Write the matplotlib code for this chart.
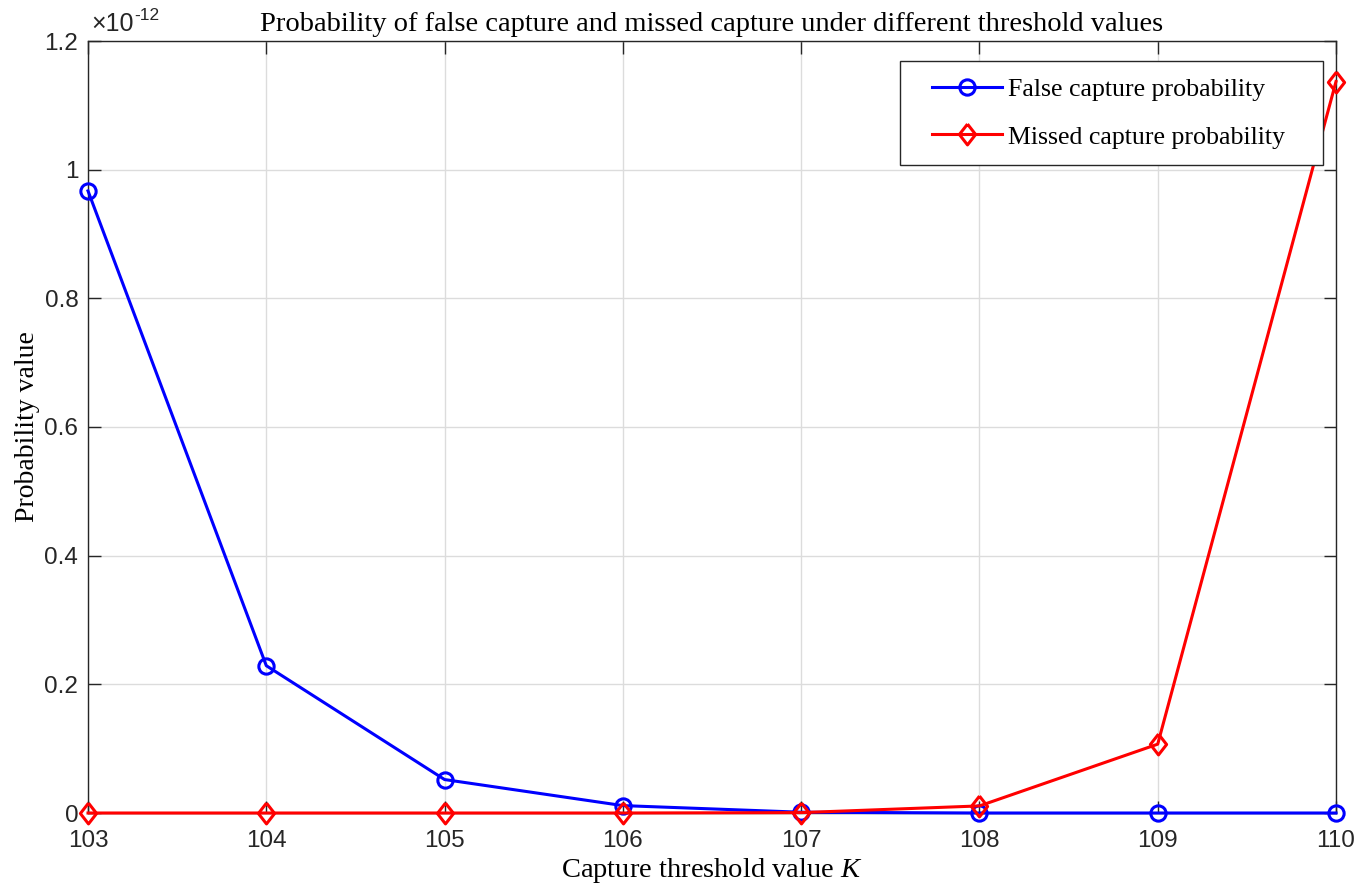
import matplotlib
matplotlib.use("Agg")
import matplotlib.pyplot as plt
import numpy as np
from matplotlib.lines import Line2D
from matplotlib.legend_handler import HandlerLine2D

plt.rcParams["mathtext.fontset"] = "custom"
plt.rcParams["mathtext.rm"] = "Liberation Serif"
plt.rcParams["mathtext.it"] = "Liberation Serif:italic"

K = [103, 104, 105, 106, 107, 108, 109, 110]
false_capture = [0.967, 0.229, 0.052, 0.0115, 0.0012, 0.0, 0.0, 0.0]   # x 1e-12
missed_capture = [0.0, 0.0, 0.0, 0.0, 0.0006, 0.011, 0.107, 1.137]     # x 1e-12
scale = 1e-12
yticks = [0, 0.2, 0.4, 0.6, 0.8, 1.0, 1.2]
ytick_labels = ["0", "0.2", "0.4", "0.6", "0.8", "1", "1.2"]

serif = ["Liberation Serif", "DejaVu Serif"]
sans = ["Liberation Sans", "DejaVu Sans"]

diamond = [(0, 1), (0.78, 0), (0, -1), (-0.78, 0), (0, 1)]

fig = plt.figure(figsize=(13.69, 8.85), dpi=100)
ax = fig.add_axes([88/1369, 1-813/885, (1336-88)/1369, (813-41)/885])

fc = np.array(false_capture) * scale
mc = np.array(missed_capture) * scale

ax.plot(K, fc, color="#0000ff", lw=2.2, marker="o", ms=11, mfc="none", mew=2.2,
        label="False capture probability", clip_on=False, zorder=3)
ax.plot(K, mc, color="#ff0000", lw=2.2, marker=diamond, ms=15, mfc="none", mew=2.2,
        label="Missed capture probability", clip_on=False, zorder=3)

ax.set_xlim(103, 110)
ax.set_ylim(0, 1.2 * scale)
ax.set_xticks(K)
ax.set_yticks([v * scale for v in yticks])
ax.set_yticklabels(ytick_labels)
ax.set_xticklabels([str(k) for k in K])
for lbl in ax.get_xticklabels() + ax.get_yticklabels():
    lbl.set_family(sans)
    lbl.set_fontsize(17.5)
    lbl.set_color("#262626")

ax.tick_params(direction="in", top=True, right=True, length=9, width=1, color="#262626")
ax.tick_params(axis="x", pad=12)
ax.tick_params(axis="y", pad=7)
ax.grid(True, color="#dcdcdc", lw=1)
ax.set_axisbelow(True)
for s in ax.spines.values():
    s.set_color("#262626")
    s.set_linewidth(1)

ax.set_xlabel("Capture threshold value $\\mathit{K}$", family=serif, fontsize=20.5, labelpad=3)
ax.set_ylabel("Probability value", family=serif, fontsize=20, labelpad=3)
ax.set_title("Probability of false capture and missed capture under different threshold values",
             family=serif, fontsize=20.5, pad=7)
t1 = ax.text(0.003, 1.006, "\u00d710", transform=ax.transAxes, family=sans,
             fontsize=18, ha="left", va="bottom", color="#262626")
ax.annotate("-12", xy=(1, 0.55), xycoords=t1, family=sans, fontsize=12.5,
            ha="left", va="bottom", color="#262626")

x0, x1 = 900/1369, 1323/1369
ytop = 1 - 61/885
leg = ax.legend(loc="upper left", bbox_to_anchor=(x0, ytop - 0.2, x1 - x0, 0.2),
                bbox_transform=fig.transFigure, mode="expand", borderaxespad=0,
                prop={"family": serif, "size": 18.6},
                fancybox=False, edgecolor="#262626", framealpha=1, borderpad=0.65,
                handlelength=3.3, labelspacing=0.95, handletextpad=0.25,
                handler_map={Line2D: HandlerLine2D(xpad=0.6)})
leg.get_frame().set_linewidth(1)

fig.savefig("out.png", dpi=100)
